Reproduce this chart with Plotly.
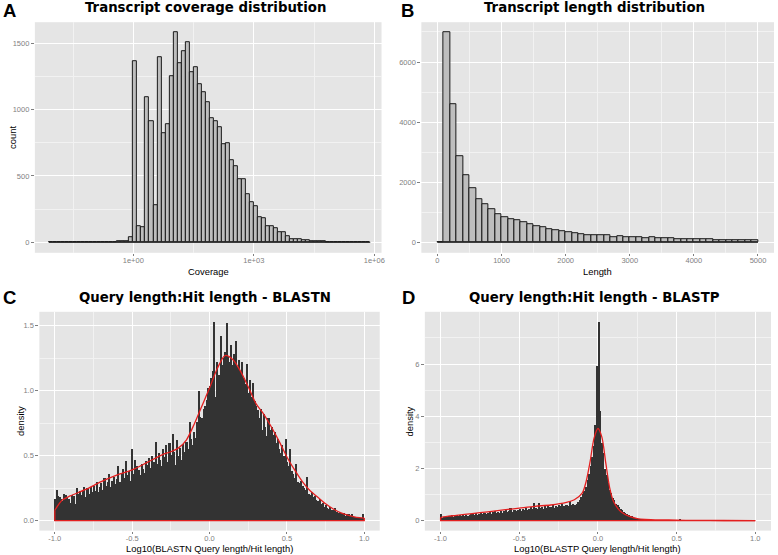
import numpy as np
import plotly.graph_objects as go

# ---------------- Panel A: transcript coverage (log10 bins) ----------------
coverage_bin_start = -2.1
coverage_bin_width = 0.1
coverage_counts = [
    1, 0, 1, 0, 1, 2, 1, 2, 1, 1, 2, 3, 2, 2, 3, 3,
    4, 5, 9, 12, 38,
    1367, 120, 115, 1093, 910, 279, 1397, 824, 892, 1254,
    1580, 1347, 1437, 1510, 1284, 1322, 1194, 1131, 1053, 935,
    915, 864, 741, 746, 618, 575, 475, 475, 364, 306,
    271, 188, 181, 121, 121, 105, 75, 75, 48, 25,
    25, 23, 15, 13, 8, 8, 5, 5, 4, 3,
    3, 2, 2, 2, 1, 1, 1, 1, 1,
]
coverage_tickvals = [0, 3, 6]
coverage_ticktext = ["1e+00", "1e+03", "1e+06"]

# ---------------- Panel B: transcript length ----------------
length_bin_start = 0
length_bin_width = 100
length_counts = [
    0, 6976, 4602, 2850, 2240, 1785, 1431, 1253, 1087, 932,
    843, 765, 721, 665, 588, 543, 499, 433, 399, 355,
    322, 288, 277, 244, 222, 233, 222, 177, 189, 177,
    177, 166, 144, 155, 133, 133, 122, 111, 100, 100,
    111, 89, 100, 78, 78, 67, 67, 67, 67, 60,
]

# ---------------- Panel C: BLASTN ----------------
ratio_bin_start = -1.0
ratio_bin_width = 0.01
blastn_density = [
    0.17, 0.24, 0.19, 0.18, 0.17, 0.15, 0.21, 0.20, 0.18, 0.17,
    0.14, 0.20, 0.19, 0.13, 0.25, 0.21, 0.23, 0.20, 0.24, 0.26,
    0.18, 0.25, 0.21, 0.26, 0.22, 0.27, 0.23, 0.30, 0.22, 0.26,
    0.29, 0.24, 0.33, 0.27, 0.30, 0.36, 0.26, 0.31, 0.34, 0.28,
    0.32, 0.42, 0.30, 0.36, 0.40, 0.33, 0.46, 0.35, 0.38, 0.31,
    0.55, 0.36, 0.47, 0.42, 0.39, 0.35, 0.44, 0.40, 0.37, 0.46,
    0.43, 0.48, 0.41, 0.50, 0.45, 0.61, 0.44, 0.52, 0.47, 0.42,
    0.55, 0.49, 0.58, 0.45, 0.60, 0.51, 0.67, 0.53, 0.43, 0.62,
    0.50, 0.56, 0.47, 0.59, 0.53, 0.61, 0.55, 0.76, 0.63, 0.58,
    0.68, 0.64, 0.76, 1.00, 0.80, 0.79, 0.86, 0.88, 0.93, 1.02,
    1.04, 1.10, 1.15, 1.53, 0.95, 1.22, 1.12, 1.42, 1.20, 1.25,
    1.30, 1.52, 1.26, 1.22, 1.35, 1.20, 1.28, 1.38, 1.18, 1.24,
    1.15, 1.22, 1.10, 1.05, 1.21, 0.98, 1.08, 0.95, 1.06, 0.92,
    0.88, 0.85, 0.79, 0.86, 0.70, 0.82, 0.72, 0.65, 0.79, 0.70,
    0.72, 0.66, 0.68, 0.60, 0.63, 0.55, 0.52, 0.58, 0.50, 0.63,
    0.45, 0.42, 0.55, 0.38, 0.36, 0.33, 0.44, 0.30, 0.29, 0.31,
    0.27, 0.25, 0.24, 0.34, 0.21, 0.20, 0.22, 0.18, 0.19, 0.16,
    0.15, 0.17, 0.13, 0.14, 0.11, 0.12, 0.10, 0.09, 0.11, 0.08,
    0.08, 0.10, 0.07, 0.06, 0.07, 0.06, 0.05, 0.06, 0.04, 0.05,
    0.05, 0.04, 0.05, 0.03, 0.03, 0.02, 0.03, 0.02, 0.02, 0.05,
]
blastn_kde_x = [-1.0, -0.95, -0.9, -0.8, -0.7, -0.6, -0.5, -0.4, -0.3, -0.25,
                -0.2, -0.15, -0.1, -0.05, 0.0, 0.05, 0.1, 0.15, 0.2, 0.25,
                0.3, 0.35, 0.4, 0.45, 0.5, 0.55, 0.6, 0.65, 0.7, 0.75,
                0.8, 0.85, 0.9, 0.95, 1.0]
blastn_kde_y = [0.08, 0.16, 0.19, 0.24, 0.30, 0.35, 0.39, 0.45, 0.51, 0.53,
                0.56, 0.62, 0.74, 0.88, 1.02, 1.17, 1.27, 1.24, 1.15, 1.03,
                0.90, 0.82, 0.72, 0.61, 0.49, 0.39, 0.30, 0.23, 0.18, 0.13,
                0.09, 0.06, 0.04, 0.025, 0.02]

# ---------------- Panel D: BLASTP ----------------
blastp_density = [
    0.26, 0.10, 0.15, 0.18, 0.14, 0.20, 0.17, 0.22, 0.16, 0.19,
    0.24, 0.18, 0.21, 0.17, 0.26, 0.20, 0.23, 0.19, 0.22, 0.25,
    0.27, 0.22, 0.30, 0.24, 0.28, 0.33, 0.26, 0.29, 0.31, 0.25,
    0.30, 0.35, 0.28, 0.33, 0.37, 0.31, 0.34, 0.29, 0.38, 0.32,
    0.36, 0.41, 0.33, 0.39, 0.48, 0.35, 0.40, 0.43, 0.37, 0.42,
    0.45, 0.39, 0.47, 0.43, 0.50, 0.41, 0.46, 0.52, 0.44, 0.70,
    0.51, 0.46, 0.69, 0.49, 0.53, 0.47, 0.55, 0.50, 0.58, 0.52,
    0.54, 0.61, 0.50, 0.57, 0.53, 0.60, 0.56, 0.64, 0.55, 0.59,
    0.62, 0.57, 0.76, 0.60, 0.66, 0.62, 0.66, 0.73, 0.79, 0.90,
    1.02, 1.15, 1.30, 1.56, 1.80, 2.10, 2.45, 2.85, 3.66, 5.92,
    7.62, 4.20, 3.00, 2.60, 2.00, 1.75, 1.45, 1.20, 1.05, 0.88,
    0.78, 0.66, 0.60, 0.52, 0.46, 0.40, 0.34, 0.30, 0.26, 0.22,
    0.19, 0.17, 0.15, 0.12, 0.11, 0.09, 0.08, 0.07, 0.06, 0.05,
    0.05, 0.04, 0.04, 0.03, 0.03, 0.03, 0.02, 0.02, 0.02, 0.02,
    0.02, 0.02, 0.01, 0.02, 0.01, 0.01, 0.01, 0.01, 0.01, 0.01,
    0.01, 0.01, 0.05, 0.01, 0.01, 0.01, 0.00, 0.01, 0.00, 0.00,
    0.00, 0.01, 0.00, 0.00, 0.00, 0.01, 0.00, 0.00, 0.00, 0.00,
    0.00, 0.00, 0.00, 0.00, 0.00, 0.00, 0.00, 0.00, 0.00, 0.00,
    0.00, 0.00, 0.00, 0.00, 0.00, 0.00, 0.00, 0.00, 0.00, 0.00,
    0.00, 0.00, 0.00, 0.00, 0.00, 0.00, 0.00, 0.00, 0.00, 0.00,
]
blastp_kde_x = [-1.0, -0.95, -0.9, -0.8, -0.7, -0.6, -0.5, -0.4, -0.3, -0.2,
                -0.15, -0.1, -0.075, -0.05, -0.025, 0.0, 0.025, 0.05, 0.075, 0.1,
                0.125, 0.15, 0.2, 0.25, 0.3, 0.4, 0.5, 0.6, 0.8, 1.0]
blastp_kde_y = [0.12, 0.17, 0.20, 0.27, 0.34, 0.41, 0.48, 0.55, 0.60, 0.70,
                0.80, 1.05, 1.50, 2.25, 3.15, 3.53, 3.20, 2.20, 1.25, 0.72,
                0.48, 0.32, 0.16, 0.08, 0.05, 0.03, 0.02, 0.01, 0.005, 0.003]

# ---------------- layout helpers ----------------
W, H = 778, 555


def xdom(a, b):
    return [a / W, b / W]


def ydom(top, bottom):
    return [1 - bottom / H, 1 - top / H]


def centers(start, width, n):
    return [start + width * (i + 0.5) for i in range(n)]


TICK_GREY = "#7F7F7F"
BAR_FILL = "#BEBEBE"
DARK_FILL = "#333333"
RED = "#E41F1F"


def axis(domain, rng, tickvals, ticktext, minor_vals, anchor, is_x=False):
    d = dict(
        domain=domain, range=rng, anchor=anchor,
        tickmode="array", tickvals=tickvals, ticktext=ticktext,
        showgrid=True, gridcolor="white", gridwidth=1.1,
        zeroline=False, showline=False,
        ticks="outside", ticklen=3, tickcolor=TICK_GREY, tickwidth=1,
        tickfont=dict(family="Liberation Sans, Arial, sans-serif", size=7.5, color=TICK_GREY),
        minor=dict(tickvals=minor_vals, showgrid=True, gridcolor="#F2F2F2",
                   gridwidth=0.5, ticks=""),
        fixedrange=True,
    )
    if is_x:
        d["ticklen"] = 2
        d["ticklabelstandoff"] = -2
    return d


fig = go.Figure()

# Panel A
cov_x = centers(coverage_bin_start, coverage_bin_width, len(coverage_counts))
fig.add_trace(go.Bar(x=cov_x, y=coverage_counts, width=coverage_bin_width,
                     marker=dict(color=BAR_FILL, line=dict(color="#1A1A1A", width=1)),
                     xaxis="x", yaxis="y", showlegend=False))
cov_edges = [coverage_bin_start, coverage_bin_start + coverage_bin_width * len(coverage_counts)]
fig.add_trace(go.Scatter(x=cov_edges, y=[0, 0], mode="lines",
                         line=dict(color="#1A1A1A", width=1),
                         xaxis="x", yaxis="y", showlegend=False))

# Panel B
len_x = centers(length_bin_start, length_bin_width, len(length_counts))
fig.add_trace(go.Bar(x=len_x, y=length_counts, width=length_bin_width,
                     marker=dict(color=BAR_FILL, line=dict(color="#1A1A1A", width=1)),
                     xaxis="x2", yaxis="y2", showlegend=False))
len_edges = [length_bin_start, length_bin_start + length_bin_width * len(length_counts)]
fig.add_trace(go.Scatter(x=len_edges, y=[0, 0], mode="lines",
                         line=dict(color="#1A1A1A", width=1),
                         xaxis="x2", yaxis="y2", showlegend=False))


def density_panel(vals, kx, ky, xa, ya):
    bx = centers(ratio_bin_start, ratio_bin_width, len(vals))
    fig.add_trace(go.Bar(x=bx, y=vals, width=ratio_bin_width,
                         marker=dict(color=DARK_FILL, line=dict(width=0)),
                         xaxis=xa, yaxis=ya, showlegend=False))
    fig.add_trace(go.Scatter(x=kx, y=ky, mode="lines",
                             line=dict(color=RED, width=1.3, shape="spline", smoothing=0.8),
                             xaxis=xa, yaxis=ya, showlegend=False))
    fig.add_trace(go.Scatter(x=[kx[-1], kx[-1], kx[0], kx[0]], y=[ky[-1], 0, 0, ky[0]],
                             mode="lines", line=dict(color=RED, width=1.3),
                             xaxis=xa, yaxis=ya, showlegend=False))


density_panel(blastn_density, blastn_kde_x, blastn_kde_y, "x3", "y3")
density_panel(blastp_density, blastp_kde_x, blastp_kde_y, "x4", "y4")

top_dom = ydom(22.2, 252.8)
bot_dom = ydom(311.8, 530.6)

fig.update_layout(
    width=W, height=H,
    margin=dict(l=0, r=0, t=0, b=0),
    paper_bgcolor="white", plot_bgcolor="#E5E5E5",
    bargap=0, showlegend=False,
    xaxis=axis(xdom(35, 383), [-2.45, 6.18], coverage_tickvals, coverage_ticktext,
               [-1.5, 1.5, 4.5], "y", True),
    yaxis=axis(top_dom, [-79, 1659], [0, 500, 1000, 1500], ["0", "500", "1000", "1500"],
               [250, 750, 1250], "x"),
    xaxis2=axis(xdom(423, 777), [-250, 5250], [0, 1000, 2000, 3000, 4000, 5000],
                ["0", "1000", "2000", "3000", "4000", "5000"],
                [500, 1500, 2500, 3500, 4500], "y2", True),
    yaxis2=axis(top_dom, [-349, 7325], [0, 2000, 4000, 6000], ["0", "2000", "4000", "6000"],
                [1000, 3000, 5000, 7000], "x2"),
    xaxis3=axis(xdom(39.5, 381.2), [-1.1, 1.1], [-1, -0.5, 0, 0.5, 1],
                ["-1.0", "-0.5", "0.0", "0.5", "1.0"], [-0.75, -0.25, 0.25, 0.75], "y3", True),
    yaxis3=axis(bot_dom, [-0.0765, 1.6065], [0, 0.5, 1.0, 1.5], ["0.0", "0.5", "1.0", "1.5"],
                [0.25, 0.75, 1.25], "x3"),
    xaxis4=axis(xdom(426.5, 774), [-1.1, 1.1], [-1, -0.5, 0, 0.5, 1],
                ["-1.0", "-0.5", "0.0", "0.5", "1.0"], [-0.75, -0.25, 0.25, 0.75], "y4", True),
    yaxis4=axis(bot_dom, [-0.381, 8.0], [0, 2, 4, 6], ["0", "2", "4", "6"],
                [1, 3, 5, 7], "x4"),
)

ann = []


def text(x, y, s, size, family, color="black", bold=False, angle=0):
    ann.append(dict(x=x / W, y=1 - y / H, xref="paper", yref="paper",
                    text=("<b>%s</b>" % s) if bold else s, showarrow=False,
                    xanchor="center", yanchor="middle", textangle=angle,
                    font=dict(size=size, family=family, color=color)))


TITLE_FONT = "DejaVu Sans, Verdana, sans-serif"
LAB_FONT = "Liberation Sans, Arial, Helvetica, sans-serif"

# Panel letters
text(10, 10, "A", 18.5, LAB_FONT, bold=True)
text(409, 10, "B", 18.5, LAB_FONT, bold=True)
text(10, 297.5, "C", 18.5, LAB_FONT, bold=True)
text(410, 297.5, "D", 18.5, LAB_FONT, bold=True)

# Titles
text(206, 8, "Transcript coverage distribution", 13.3, TITLE_FONT, bold=True)
text(597, 8, "Transcript length distribution", 13.3, TITLE_FONT, bold=True)
text(206, 297, "Query length:Hit length - BLASTN", 13.3, TITLE_FONT, bold=True)
text(597, 297, "Query length:Hit length - BLASTP", 13.3, TITLE_FONT, bold=True)

# Axis titles
text(209, 271, "Coverage", 9.4, LAB_FONT)
text(600, 271, "Length", 9.4, LAB_FONT)
text(210, 548, "Log10(BLASTN Query length/Hit length)", 9.4, LAB_FONT)
text(600, 548, "Log10(BLASTP Query length/Hit length)", 9.4, LAB_FONT)
text(12, 137, "count", 9.4, LAB_FONT, angle=-90)
text(20, 421, "density", 9.4, LAB_FONT, angle=-90)
text(411, 421, "density", 9.4, LAB_FONT, angle=-90)

fig.update_layout(annotations=ann)

fig.write_html(
    "out.html",
    config={"displayModeBar": False},
    post_script="document.body.style.margin='0px';document.body.style.overflow='hidden';",
)
